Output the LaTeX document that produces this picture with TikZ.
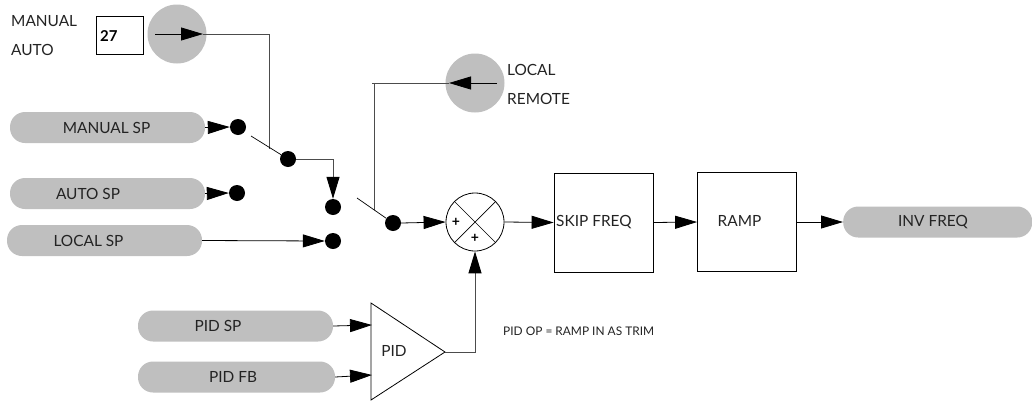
\documentclass[tikz,border=0pt]{standalone}
\usepackage{fontspec}
\setmainfont{Lato}
\usetikzlibrary{arrows.meta,calc}
\definecolor{pillgray}{RGB}{191,191,191}
\definecolor{inkdark}{RGB}{35,35,35}
\tikzset{
  lbl/.style={font=\fontsize{15.4}{17}\selectfont,text=inkdark,inner sep=0pt},
  pill/.style={fill=pillgray,rounded corners=15pt,minimum height=31pt,inner sep=0pt},
  disc/.style={circle,fill=pillgray,minimum size=59pt,inner sep=0pt},
  dot/.style={circle,fill=black,minimum size=16pt,inner sep=0pt},
  blockbox/.style={lbl,draw=black,line width=0.8pt,minimum width=99pt,minimum height=99pt},
  arr/.style={-{Triangle[length=22pt,width=13pt,black]},draw=black,line width=0.8pt},
  wire/.style={draw=black!70,line width=1pt},
  warr/.style={wire,-{Triangle[length=22pt,width=13pt,black]}}
}
\begin{document}
\begin{tikzpicture}[x=1pt,y=-1pt]
  \useasboundingbox (0,0) rectangle (1032,402);
  % mode selectors
  \node[lbl,anchor=west] (manuallbl) at (11,21) {MANUAL};
  \node[lbl,anchor=west] (autolbl) at (11,50) {AUTO};
  \node[draw=black,line width=0.8pt,minimum width=47pt,minimum height=38pt] (tag) at (119.5,35) {};
  \node[font=\fontsize{15}{17}\selectfont\bfseries,anchor=west,inner sep=0pt] (taglbl) at (100,36) {27};
  \node[disc] (modedisc) at (177,34) {};
  \node[disc] (localdisc) at (475,83) {};
  \node[lbl,anchor=west] (locallbl) at (507,70) {LOCAL};
  \node[lbl,anchor=west] (remotelbl) at (507,99) {REMOTE};
  % setpoint sources
  \node[pill,minimum width=195pt] (manualsp) at (107.5,127.5) {};
  \node[lbl] at (106.5,127.5) {MANUAL SP};
  \node[pill,minimum width=195pt] (autosp) at (107.5,193.5) {};
  \node[lbl] at (88,193.5) {AUTO SP};
  \node[pill,minimum width=195pt] (localsp) at (104.5,240.5) {};
  \node[lbl] at (88.5,240.5) {LOCAL SP};
  \node[pill,minimum width=195pt] (pidsp) at (235.5,326) {};
  \node[lbl] at (218,326) {PID SP};
  \node[pill,minimum width=197pt] (pidfb) at (236.5,377) {};
  \node[lbl] at (233,377) {PID FB};
  \node[pill,minimum width=189pt,anchor=west] (invfreq) at (843,222) {};
  \node[lbl] at (933,222) {INV FREQ};
  % switch contacts
  \node[dot] (dotmanual) at (238,127) {};
  \node[dot] (dotauto) at (237,193) {};
  \node[dot] (dotsel) at (288,159) {};
  \node[dot] (dotrem) at (333,207) {};
  \node[dot] (dotlocal) at (333,241) {};
  \node[dot] (dotout) at (393,223) {};
  \coordinate (armA) at (251,136);
  \coordinate (armB) at (357,198);
  \coordinate (tapA) at (269,149);
  \coordinate (tapB) at (374,210);
  % blocks
  \node[draw=black,line width=0.8pt,circle,minimum size=58pt,inner sep=0pt] (sum) at (475,222) {};
  \node[font=\fontsize{14}{15}\selectfont\bfseries,inner sep=0pt] (plusa) at (456,222) {+};
  \node[font=\fontsize{14}{15}\selectfont\bfseries,inner sep=0pt] (plusb) at (475,238) {+};
  \node[blockbox] (skip) at (603.5,222.5) {};
  \node[lbl,anchor=west] (skiplbl) at (556,222) {SKIP FREQ};
  \node[blockbox] (ramp) at (747,222) {};
  \node[lbl] (ramplbl) at (739.5,221) {RAMP};
  \coordinate (pida) at (371,303);
  \coordinate (pidb) at (371,400);
  \coordinate (pidc) at (445,352);
  \draw[line width=0.8pt] (pida) -- (pidb) -- (pidc) -- cycle;
  \node[lbl] (pidlbl) at (394,351) {PID};
  \node[lbl,font=\fontsize{11.9}{13}\selectfont,anchor=west] (note) at (503,331) {PID OP = RAMP IN AS TRIM};
  \draw[line width=0.7pt] (sum.45) -- (sum.225) (sum.135) -- (sum.315);
  % connectors
  \coordinate (modein) at (155,34);
  \coordinate (modeout) at (203,34);
  \coordinate (localin) at (497,83);
  \coordinate (localout) at (449,83);
  \coordinate (localcorner) at (372,83);
  \coordinate (pidupa) at (372,325);
  \coordinate (pidupb) at (372,375);
  \draw[arr] (modein) -- (modeout);
  \draw[arr] (localin) -- (localout);
  \draw[wire] (modeout) -| (tapA);
  \draw[wire] (localout) -- (localcorner);
  \draw[wire] (tapB) -- (tapB |- localcorner);
  \draw[line width=0.7pt] (armA) -- (dotsel);
  \draw[line width=0.7pt] (armB) -- (dotout);
  \draw[arr] (manualsp.east) -- (dotmanual.west);
  \draw[arr] (autosp.east) -- (dotauto.west);
  \draw[arr] (localsp.east) -- (dotlocal.west);
  \draw[warr] (dotsel.east) -| (dotrem.north);
  \draw[arr] (dotout.east) -- (sum.west);
  \draw[arr] (sum.east) -- (skip.west);
  \draw[arr] (skip.east) -- (ramp.west);
  \draw[arr] (ramp.east) -- (invfreq.west);
  \draw[arr] (pidsp.east) -- (pidupa);
  \draw[arr] (pidfb.east) -- (pidupb);
  \draw[warr] (pidc) -| (sum.south);
\end{tikzpicture}
\end{document}
